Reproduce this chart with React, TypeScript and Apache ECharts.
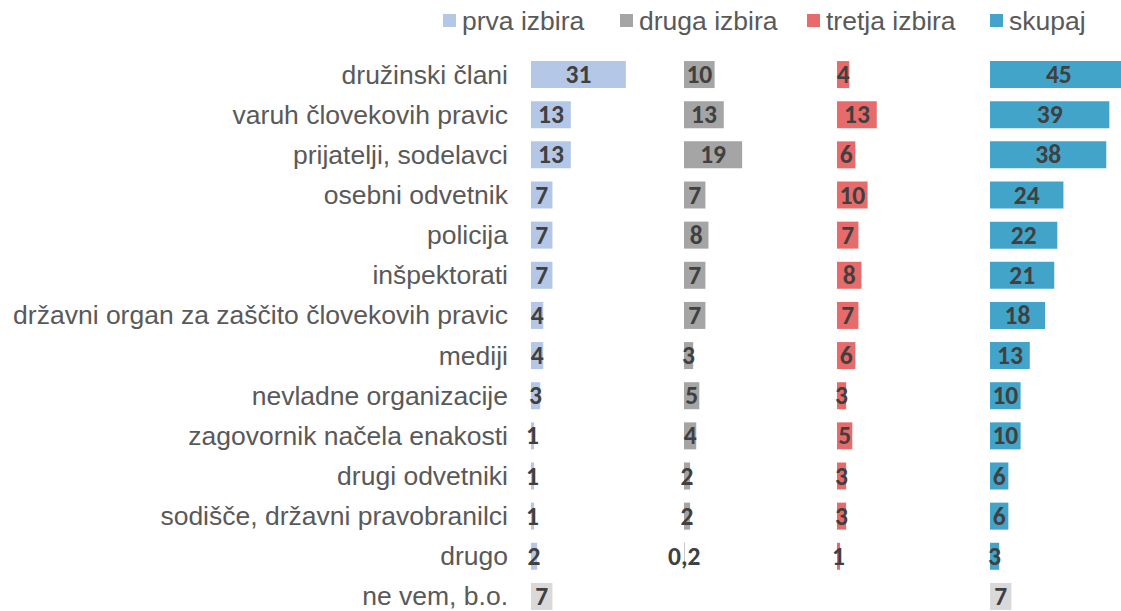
import React, { useEffect, useRef } from "react";
import * as echarts from "echarts";

const categories = [
  "družinski člani",
  "varuh človekovih pravic",
  "prijatelji, sodelavci",
  "osebni odvetnik",
  "policija",
  "inšpektorati",
  "državni organ za zaščito človekovih pravic",
  "mediji",
  "nevladne organizacije",
  "zagovornik načela enakosti",
  "drugi odvetniki",
  "sodišče, državni pravobranilci",
  "drugo",
  "ne vem, b.o.",
];

const seriesNames = ["prva izbira", "druga izbira", "tretja izbira", "skupaj"];

// last entry = "ne vem, b.o." (null where there is no bar)
const prva = [31, 13, 13, 7, 7, 7, 4, 4, 3, 1, 1, 1, 2, 7];
const druga = [10, 13, 19, 7, 8, 7, 7, 3, 5, 4, 2, 2, 0.2, null];
const tretja = [4, 13, 6, 10, 7, 8, 7, 6, 3, 5, 3, 3, 1, null];
const skupaj = [45, 39, 38, 24, 22, 21, 18, 13, 10, 10, 6, 6, 3, 7];

const colors = ["#B4C7E7", "#A5A5A5", "#E86B6B", "#42A4C8"];
const neVemColor = "#D9D9D9";

const allValues = [prva, druga, tretja, skupaj];

export default function App() {
  const ref = useRef<HTMLDivElement>(null);

  useEffect(() => {
    if (!ref.current) return;
    const chart = echarts.init(ref.current, null, { renderer: "svg" });

    const panelLeft = [531, 684, 837, 990];
    const legendLeft = [443, 620, 807, 990];
    const panelWidth = 153;
    const gridTop = 54.5;
    const gridHeight = 562;
    const font = "'Liberation Sans', Arial, sans-serif";

    const grids = panelLeft.map((l) => ({
      left: l,
      top: gridTop,
      width: panelWidth,
      height: gridHeight,
      containLabel: false,
    }));

    const xAxes = panelLeft.map((_, i) => ({
      type: "value",
      gridIndex: i,
      min: 0,
      max: 50,
      show: false,
      splitLine: { show: false },
    }));

    const yAxes = panelLeft.map((_, i) => ({
      type: "category",
      gridIndex: i,
      data: categories,
      inverse: true,
      axisLine: { show: false },
      axisTick: { show: false },
      splitLine: { show: false },
      axisLabel: {
        show: i === 0,
        margin: 23,
        fontSize: 26.5,
        lineHeight: 22,
        color: "#595959",
        fontFamily: font,
      },
    }));

    const series = allValues.map((vals, i) => ({
      name: seriesNames[i],
      type: "bar",
      xAxisIndex: i,
      yAxisIndex: i,
      barWidth: 27,
      itemStyle: { color: colors[i] },
      label: {
        show: true,
        position: "inside",
        color: "#404040",
        fontWeight: "bold",
        fontSize: 25.5,
        lineHeight: 22,
        fontFamily: "Carlito, Lato, 'Open Sans', sans-serif",
        formatter: (p: any) => String(p.value).replace(".", ","),
      },
      data: vals.map((v, j) =>
        v === null
          ? null
          : j === categories.length - 1
          ? { value: v, itemStyle: { color: neVemColor } }
          : v
      ),
    }));

    const legends = seriesNames.map((name, i) => ({
      data: [name],
      left: legendLeft[i],
      top: 7,
      itemWidth: 13,
      itemHeight: 13,
      icon: "rect",
      padding: 0,
      textStyle: {
        fontSize: 26.5,
        color: "#595959",
        fontFamily: font,
        padding: [0, 0, 0, 1],
      },
    }));

    chart.setOption({
      animation: false,
      backgroundColor: "#ffffff",
      legend: legends,
      grid: grids,
      xAxis: xAxes,
      yAxis: yAxes,
      series,
    });

    return () => chart.dispose();
  }, []);

  return (
    <div
      ref={ref}
      style={{ position: "fixed", left: 0, top: 0, width: 1150, height: 640 }}
    />
  );
}
